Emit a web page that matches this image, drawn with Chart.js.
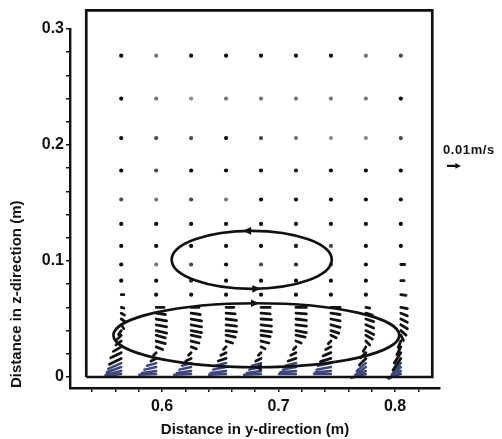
<!DOCTYPE html>
<html>
<head>
<meta charset="utf-8">
<script src="https://cdn.jsdelivr.net/npm/chart.js@4.4.1/dist/chart.umd.min.js"></script>
<style>
  html, body { margin: 0; padding: 0; background: #fff; }
  canvas { display: block; }
</style>
</head>
<body>
<canvas id="c" width="502" height="439"></canvas>
<script>
// Measurement grid: y positions of the columns and z positions of the rows (m)
const colY = [0.565, 0.595, 0.625, 0.655, 0.685, 0.715, 0.745, 0.775, 0.805];
const rowZ = [0.277, 0.240, 0.206, 0.178, 0.153, 0.132, 0.113, 0.097, 0.083, 0.071,
              0.060, 0.055, 0.050, 0.045, 0.040, 0.036, 0.031, 0.026, 0.021, 0.016,
              0.012, 0.0086, 0.0052, 0.0026];

// Horizontal velocity u (mm/s), one row per entry of rowZ
const uRows = [
  [1.0, 0.3, 1.0, 1.0, 1.0, 1.0, 1.0, 0.3, 0.6],
  [1.0, 0.3, 0.15, 0.3, 0.3, 0.3, 0.3, 0.3, 1.0],
  [1.0, 0.6, 0.6, 1.0, 0.6, 0.3, 0.15, 0.15, 0.6],
  [1.0, 0.6, 1.0, 1.0, 1.0, 1.0, 1.0, 1.0, 1.0],
  [0.6, 0.3, 0.6, 0.3, 1.0, 1.0, 1.2, 1.2, 1.2],
  [1.2, 1.2, 1.0, 1.0, 1.0, 1.0, 1.0, 1.2, 1.0],
  [1.2, 1.2, 1.0, 1.0, 1.0, 1.0, 0.6, 1.2, 1.2],
  [1.2, 0.3, 0.6, 1.0, 0.6, 0.8, 0.6, 1.0, 3.0],
  [1.2, 1.0, 0.8, 1.0, 1.0, 1.0, 1.0, 1.0, 2.5],
  [2.0, 1.2, 1.0, 1.0, 1.0, 1.0, 1.0, 1.2, 4.0],
  [2.0, 6, 6, 6, 7, 8, 7, 3, 5],
  [2.5, 7, 7, 7, 7, 8, 7, 5, 5],
  [3, 8, 8, 8, 8, 8, 7, 6, 5],
  [2, 8, 8, 8, 8, 8, 7, 6, 5],
  [-2, 8, 8, 8, 8, 8, 6, 6, 4],
  [-3, 7, 7, 7, 7, 7, 4, 5, 2],
  [-4, 7, 6, 5, 6, 4, -2, 3, -2],
  [-6, 5, 4, -2, 3, -2, -4, -2, -3],
  [-8, -2, -2, -4, -2, -4, -6, -4, -5],
  [-9, -4, -4, -6, -4, -6, -8, -5, -6],
  [-10, -7, -7, -8, -7, -8, -10, -7, -7],
  [-11, -9, -9, -10, -9, -10, -11, -8, -8],
  [-12, -11, -11, -12, -11, -12, -12, -10, -9],
  [-12, -13, -13, -13, -13, -13, -13, -11, -10]
];

// Vertical velocity w (mm/s), same layout as uRows
const wRows = [
  [0, 0, 0, 0, 0, 0, 0, 0, 0],
  [0, 0, 0, 0, 0, 0, 0, 0, 0],
  [0, 0, 0, 0, 0, 0, 0, 0, 0],
  [0, 0, 0, 0, 0, 0, 0, 0, 0],
  [0, 0, 0, 0, 0, 0, 0, 0, 0],
  [0, 0, 0, 0, 0, 0, 0, 0, 0],
  [0, 0, 0, 0, 0, 0, 0, 0, 0],
  [0, 0, 0, 0, 0, 0, 0, 0, 0],
  [0, 0, 0, 0, 0, 0, 0, 0, 0],
  [0, 0, 0, 0, 0, 0, 0, 0, -0.5],
  [-0.5, 0, 0, 0, 0, 0, 0, -0.5, -1],
  [-1.5, -1, -1, -0.5, -0.5, -0.5, -1, -1.5, -2],
  [-2, -1.5, -1.5, -1, -0.5, -1, -1.5, -2, -2.5],
  [-3, -1.5, -1.5, -1, -1, -1, -2, -2.5, -3],
  [-3, -2, -1.5, -1, -1, -1.5, -2, -3, -3.5],
  [-3, -2, -1.5, -1.5, -1, -1.5, -2, -3, -4],
  [-3, -2, -1.5, -1.5, -1.5, -1.5, -2, -3, -5],
  [-3.5, -2, -1.5, -2, -1.5, -2, -2, -3.5, -6],
  [-4, -2, -2, -2, -2, -2, -2.5, -4, -8],
  [-4.5, -2, -2, -2, -2, -2, -2.5, -5, -9],
  [-4.5, -2, -2, -2, -2, -2, -2, -6, -9],
  [-4, -2, -2, -2, -2, -2, -2, -6, -8],
  [-3, -1.5, -1.5, -1.5, -1.5, -1, -1, -5, -6],
  [-1.5, -0.5, -0.5, -0.5, -0.5, 0, 0, -3, -3]
];

// Tank cross-section (m)
const domainY = [0.535, 0.832];
const domainZ = [0, 0.316];

// Circulation cells: centre (y, z), half-widths (y, z) and rotation sense (+1 anticlockwise)
const vortexCentre = [[0.677, 0.101], [0.681, 0.036]];
const vortexHalfAxes = [[0.0687, 0.025], [0.1227, 0.0276]];
const vortexSense = [1, -1];

// Reference vector
const refSpeed = 10;            // mm/s
const refLabel = '0.01m/s';
const refPos = [0.8446, 0.182];

// Axis ticks
const xMajor = [0.6, 0.7, 0.8];
const yMajor = [0, 0.1, 0.2, 0.3];

// Plot length per unit speed: metres of plot per mm/s
const quiverScale = 0.00112;

const flow = [], wallFlow = [], calm = [], calmShade = [];
rowZ.forEach((z, r) => {
  colY.forEach((y, c) => {
    const u = uRows[r][c], w = wRows[r][c];
    const mag = Math.hypot(u, w);
    if (mag < 1.6) {
      calm.push({ x: y, y: z });
      const a = 0.38 + 0.62 * Math.min(1, mag / 1.0);
      calmShade.push('rgba(12,12,12,' + a.toFixed(2) + ')');
      return;
    }
    const target = z < 0.013 ? wallFlow : flow;
    target.push({ x: y, y: z },
                { x: y + u * quiverScale, y: z + w * quiverScale },
                { x: y, y: null });
  });
});

const domain = [
  { x: domainY[0], y: domainZ[0] }, { x: domainY[1], y: domainZ[0] },
  { x: domainY[1], y: domainZ[1] }, { x: domainY[0], y: domainZ[1] },
  { x: domainY[0], y: domainZ[0] }
];

function minorTicks(lo, hi) {
  const out = [];
  for (let i = Math.ceil(lo / 0.02 - 1e-9); i * 0.02 <= hi + 1e-9; i++) out.push(+(i * 0.02).toFixed(2));
  return out;
}

const FONT = "'Liberation Sans', Arial, Helvetica, sans-serif";
const INK = '#111';

function arrowHead(ctx, x, y, dir, len, half) {
  ctx.beginPath();
  ctx.moveTo(x + dir * len, y);
  ctx.lineTo(x - dir * len * 0.4, y - half);
  ctx.lineTo(x - dir * len * 0.4, y + half);
  ctx.closePath();
  ctx.fill();
}

const cellsAndKey = {
  id: 'cellsAndKey',
  afterDatasetsDraw(chart) {
    const { ctx, scales: { x, y } } = chart;
    ctx.save();
    ctx.strokeStyle = INK;
    ctx.fillStyle = INK;
    ctx.lineWidth = 2.7;
    vortexCentre.forEach((cen, i) => {
      const cx = x.getPixelForValue(cen[0]);
      const cy = y.getPixelForValue(cen[1]);
      const rx = Math.abs(x.getPixelForValue(cen[0] + vortexHalfAxes[i][0]) - cx);
      const ry = Math.abs(y.getPixelForValue(cen[1] + vortexHalfAxes[i][1]) - cy);
      ctx.beginPath();
      ctx.ellipse(cx, cy, rx, ry, 0, 0, Math.PI * 2);
      ctx.stroke();
      const s = vortexSense[i];
      arrowHead(ctx, cx - 3, cy - ry, -s, 6, 3.8);
      arrowHead(ctx, cx + 3, cy + ry, s, 6, 3.8);
    });

    // scale arrow and its label
    const bx = x.getPixelForValue(refPos[0]);
    const by = y.getPixelForValue(refPos[1]);
    const tx = x.getPixelForValue(refPos[0] + refSpeed * quiverScale);
    ctx.lineWidth = 2.2;
    ctx.beginPath();
    ctx.moveTo(bx, by);
    ctx.lineTo(tx - 3, by);
    ctx.stroke();
    arrowHead(ctx, tx - 3, by, 1, 4, 2.8);
    ctx.font = 'bold 13px ' + FONT;
    ctx.textBaseline = 'middle';
    ctx.textAlign = 'left';
    if ('letterSpacing' in ctx) ctx.letterSpacing = '0.6px';
    ctx.fillText(refLabel, bx - 4, by - 15);
    ctx.restore();
  }
};

new Chart(document.getElementById('c'), {
  type: 'scatter',
  data: {
    datasets: [
      {
        label: 'domain',
        data: domain,
        showLine: true,
        borderColor: INK,
        borderWidth: 2.7,
        pointRadius: 0,
        fill: false,
        clip: false
      },
      {
        label: 'calm',
        data: calm,
        pointRadius: 2.1,
        pointBorderWidth: 0,
        pointBackgroundColor: calmShade
      },
      {
        label: 'flow',
        data: flow,
        showLine: true,
        borderColor: '#121212',
        borderWidth: 2.8,
        borderCapStyle: 'round',
        pointRadius: 0,
        spanGaps: false
      },
      {
        label: 'wall flow',
        data: wallFlow,
        showLine: true,
        borderColor: 'rgba(34,44,108,0.88)',
        borderWidth: 2.5,
        borderCapStyle: 'round',
        pointRadius: 0,
        spanGaps: false
      }
    ]
  },
  options: {
    responsive: false,
    animation: false,
    events: [],
    layout: { padding: { left: 0, right: 62, top: 29, bottom: 0 } },
    plugins: { legend: { display: false }, tooltip: { enabled: false } },
    scales: {
      x: {
        type: 'linear',
        min: 0.52103,
        max: 0.83863,
        afterFit(s) { s.height = 51; },
        afterBuildTicks(s) { s.ticks = minorTicks(0.52103, 0.83863).map(v => ({ value: v })); },
        border: { display: true, color: INK, width: 2.4 },
        grid: { drawOnChartArea: false, drawTicks: true, tickLength: 4, color: INK, lineWidth: 1.5 },
        ticks: {
          autoSkip: false,
          maxRotation: 0,
          padding: 5,
          color: INK,
          font: { family: FONT, size: 16, weight: 'bold' },
          callback: v => (xMajor.some(m => Math.abs(m - v) < 1e-6) ? v.toFixed(1) : '')
        },
        title: {
          display: true,
          text: 'Distance in y-direction (m)',
          color: INK,
          font: { family: FONT, size: 15, weight: 'bold' },
          padding: { top: 0, bottom: 0 }
        }
      },
      y: {
        type: 'linear',
        min: -0.00948,
        max: 0.3,
        afterFit(s) { s.width = 70; },
        afterBuildTicks(s) { s.ticks = minorTicks(0, 0.3).map(v => ({ value: v })); },
        border: { display: true, color: INK, width: 2.4 },
        grid: { drawOnChartArea: false, drawTicks: true, tickLength: 4, color: INK, lineWidth: 1.5 },
        ticks: {
          autoSkip: false,
          padding: 2,
          color: INK,
          font: { family: FONT, size: 16, weight: 'bold' },
          callback: v => {
            if (!yMajor.some(m => Math.abs(m - v) < 1e-6)) return '';
            return Math.abs(v) < 1e-9 ? '0' : v.toFixed(1);
          }
        },
        title: {
          display: true,
          text: 'Distance in z-direction (m)',
          align: 'start',
          color: INK,
          font: { family: FONT, size: 15, weight: 'bold' },
          padding: { top: 8, bottom: 0 }
        }
      }
    }
  },
  plugins: [cellsAndKey]
});
</script>
</body>
</html>
